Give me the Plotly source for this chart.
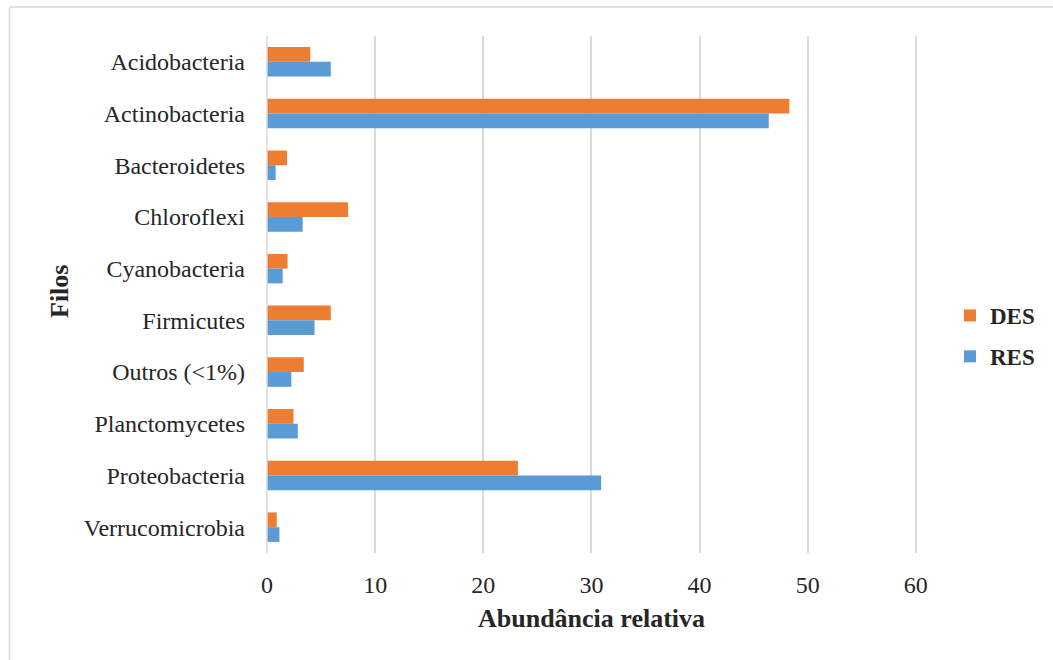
import plotly.graph_objects as go

categories = ["Acidobacteria", "Actinobacteria", "Bacteroidetes", "Chloroflexi",
              "Cyanobacteria", "Firmicutes", "Outros (<1%)", "Planctomycetes",
              "Proteobacteria", "Verrucomicrobia"]
des_values = [4.0, 48.3, 1.85, 7.5, 1.9, 5.9, 3.4, 2.45, 23.2, 0.9]
res_values = [5.9, 46.4, 0.8, 3.3, 1.45, 4.4, 2.25, 2.85, 30.9, 1.15]
x_ticks = [0, 10, 20, 30, 40, 50, 60]

W, H = 1053, 660
ML, MR, MT, MB = 267, 135, 36, 107
PW, PH = W - ML - MR, H - MT - MB

def px_x(p):
    return (p - ML) / PW

def px_y(p):
    return 1 - (p - MT) / PH

FONT = "Liberation Serif, Times New Roman, serif"

fig = go.Figure()
fig.add_trace(go.Bar(y=categories, x=des_values, name="DES", orientation="h",
                     marker=dict(color="#ED7D31", line=dict(width=0)),
                     legendgroup="a"))
fig.add_trace(go.Bar(y=categories, x=res_values, name="RES", orientation="h",
                     marker=dict(color="#5B9BD5", line=dict(width=0)),
                     legendgroup="b"))

fig.update_layout(
    width=W, height=H,
    margin=dict(l=ML, r=MR, t=MT, b=MB, autoexpand=False),
    paper_bgcolor="white", plot_bgcolor="white",
    barmode="group", bargap=0.43, bargroupgap=0,
    font=dict(family=FONT, color="#262626", size=23),
    legend=dict(x=px_x(950), y=px_y(336), xanchor="left", yanchor="middle",
                font=dict(family=FONT, size=23, color="#262626", weight="bold"),
                tracegroupgap=8, bgcolor="rgba(0,0,0,0)"),
    xaxis=dict(range=[0, 60.2], tickvals=x_ticks, showgrid=True,
               gridcolor="#d9d9d9", gridwidth=1.5, zeroline=False,
               showline=False, ticks="", ticklabelstandoff=15,
               tickfont=dict(family=FONT, size=24, color="#262626")),
    yaxis=dict(autorange="reversed", showgrid=False, showline=False,
               ticks="", ticklabelstandoff=21,
               tickfont=dict(family=FONT, size=24, color="#262626")),
    shapes=[
        dict(type="line", xref="paper", yref="paper", x0=0, x1=0,
             y0=0, y1=1, line=dict(color="#d9d9d9", width=1.5)),
        dict(type="line", xref="paper", yref="paper", x0=px_x(9.5), x1=px_x(9.5),
             y0=px_y(7), y1=px_y(700), line=dict(color="#d9d9d9", width=1.5)),
        dict(type="line", xref="paper", yref="paper", x0=px_x(9.5), x1=px_x(1100),
             y0=px_y(7), y1=px_y(7), line=dict(color="#d9d9d9", width=1.5)),
    ],
    annotations=[
        dict(text="<b>Abundância relativa</b>", xref="paper", yref="paper",
             x=px_x(591), y=px_y(618), xanchor="center", yanchor="middle",
             showarrow=False, font=dict(family=FONT, size=26, color="#262626")),
        dict(text="<b>Filos</b>", xref="paper", yref="paper",
             x=px_x(59), y=px_y(292), xanchor="center", yanchor="middle",
             textangle=-90, showarrow=False,
             font=dict(family=FONT, size=26, color="#262626")),
    ],
)

fig.write_html("out.html")
